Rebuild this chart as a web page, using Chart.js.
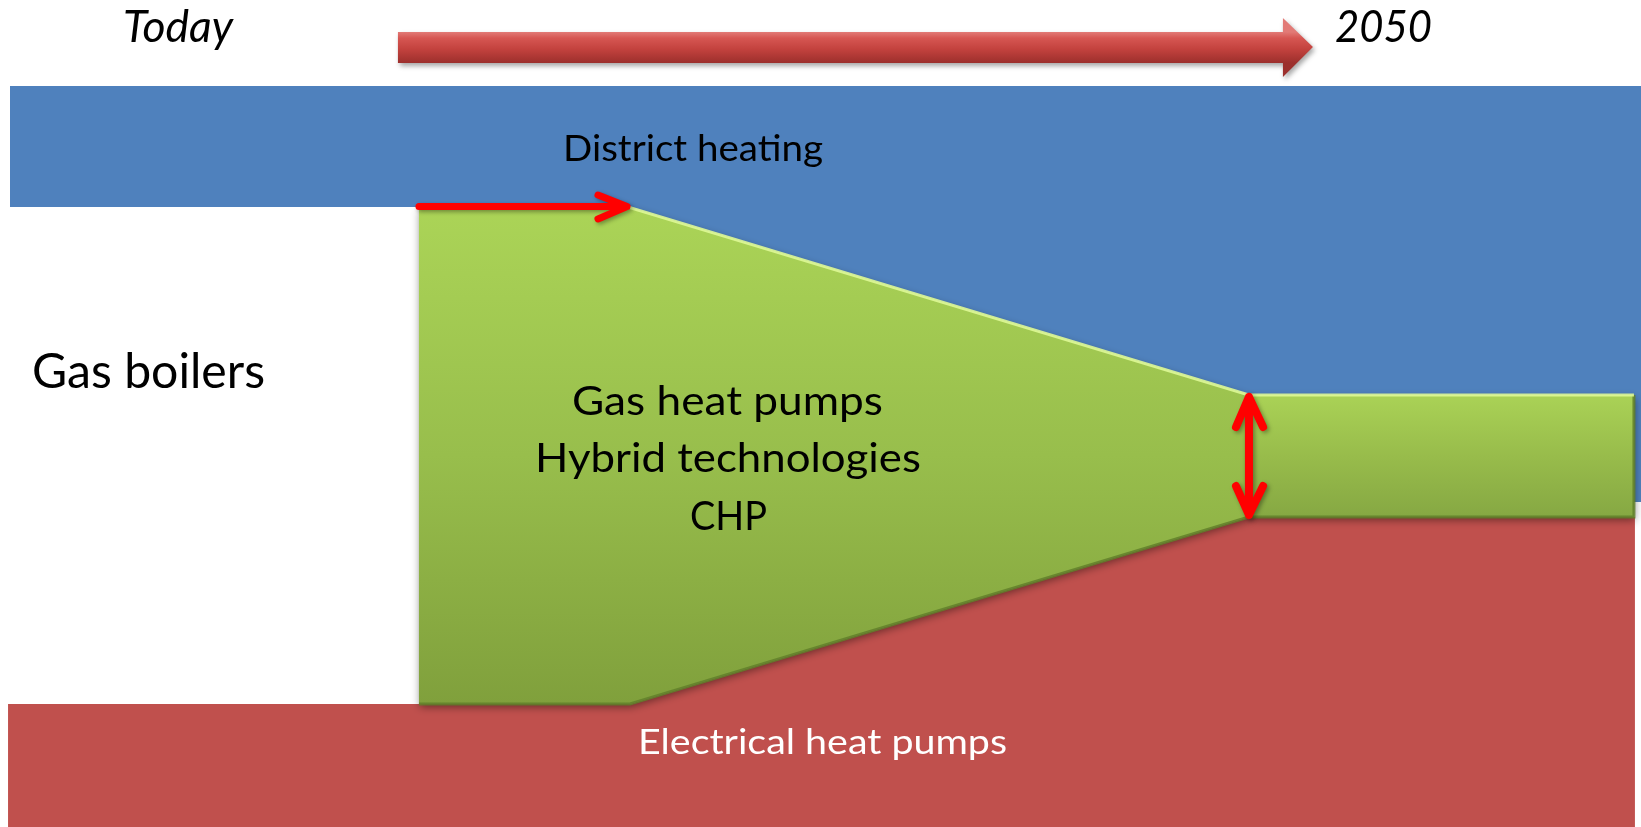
<!DOCTYPE html>
<html>
<head>
<meta charset="utf-8">
<script src="https://cdn.jsdelivr.net/npm/chart.js@4.4.1/dist/chart.umd.min.js"></script>
<style>
  html, body { margin: 0; padding: 0; background: #ffffff; overflow: hidden; }
  #wrap { width: 1641px; height: 827px; }
</style>
</head>
<body>
<div id="wrap"><canvas id="c" width="1641" height="827"></canvas></div>
<script>
// Horizontal axis: transition timeline (0 = left edge, 100 = right edge, Today -> 2050)
// Vertical axis: share of heat supply (0..100)

// District heating (blue) area outline
const districtX = [0.61, 100, 100, 76.11, 76.11, 38.27, 0.61, 0.61];
const districtY = [89.60, 89.60, 39.30, 39.30, 52.24, 74.97, 74.97, 89.60];

// Electrical heat pumps (red) area outline
const electricX = [0.49, 38.39, 76.11, 99.63, 99.63, 0.49, 0.49];
const electricY = [14.87, 14.87, 37.49, 37.49, 0, 0, 14.87];

// Gas based hybrid technologies (green) - transition part
const hybridX = [25.53, 38.27, 76.11, 76.11, 38.39, 25.53, 25.53];
const hybridY = [74.97, 74.97, 52.24, 37.49, 14.87, 14.87, 74.97];

// Gas based hybrid technologies (green) - 2050 part
const hybrid2050X = [76.11, 99.57, 99.57, 76.11, 76.11];
const hybrid2050Y = [52.24, 52.24, 37.49, 37.49, 52.24];

// Time arrow (Today -> 2050)
const timeArrowX = [24.25, 78.18, 78.18, 80.01, 78.18, 78.18, 24.25, 24.25];
const timeArrowY = [96.13, 96.13, 97.82, 94.32, 90.69, 92.38, 92.38, 96.13];

// Red marker: shift towards district heating
const shiftArrowX = [25.53, 38.21, 36.44, 38.21, 36.44];
const shiftArrowY = [75.03, 75.03, 76.42, 75.03, 73.52];

// Red marker: remaining hybrid share in 2050
const shareArrowX = [75.32, 76.11, 76.97, 76.11, 76.11, 75.32, 76.11, 76.97];
const shareArrowY = [48.37, 52.00, 48.37, 52.00, 37.73, 41.23, 37.73, 41.23];

// Texts
const timeLabels = ['Today', '2050'];
const sectorLabels = ['District heating', 'Gas boilers', 'Electrical heat pumps'];
const hybridLabels = ['Gas heat pumps', 'Hybrid technologies', 'CHP'];

// Text placement (anchor in axis units, cap height / width in px)
const textLayout = [
  { text: timeLabels[0],   x: 10.85, y: 94.92, cap: 32, w: 110, italic: true,  color: '#000000' },
  { text: timeLabels[1],   x: 84.31, y: 94.92, cap: 32, w: 97,  italic: true,  color: '#000000' },
  { text: sectorLabels[0], x: 42.23, y: 80.53, cap: 27, w: 260, italic: false, color: '#000000' },
  { text: sectorLabels[1], x: 9.05,  y: 53.08, cap: 35, w: 233, italic: false, color: '#000000' },
  { text: sectorLabels[2], x: 50.12, y: 8.83,  cap: 26, w: 369, italic: false, color: '#ffffff' },
  { text: hybridLabels[0], x: 44.33, y: 49.82, cap: 30, w: 311, italic: false, color: '#000000' },
  { text: hybridLabels[1], x: 44.36, y: 42.93, cap: 30, w: 386, italic: false, color: '#000000' },
  { text: hybridLabels[2], x: 44.39, y: 35.91, cap: 29, w: 77,  italic: false, color: '#000000' }
];

const pts = (xs, ys) => xs.map((x, i) => ({ x: x, y: ys[i] }));

function vGradient(topVal, botVal, stops, fallback) {
  return function (ctx) {
    const chart = ctx.chart;
    const sy = chart.scales && chart.scales.y;
    if (!chart.chartArea || !sy) return fallback;
    const g = chart.ctx.createLinearGradient(0, sy.getPixelForValue(topVal), 0, sy.getPixelForValue(botVal));
    stops.forEach(s => g.addColorStop(s[0], s[1]));
    return g;
  };
}

const shadowPlugin = {
  id: 'softShadow',
  beforeDatasetDraw(chart, args) {
    const ds = chart.data.datasets[args.index];
    if (!ds.shadow) return;
    const c = chart.ctx;
    c.save();
    c.shadowColor = ds.shadow.color;
    c.shadowBlur = ds.shadow.blur;
    c.shadowOffsetX = ds.shadow.dx;
    c.shadowOffsetY = ds.shadow.dy;
  },
  afterDatasetDraw(chart, args) {
    const ds = chart.data.datasets[args.index];
    if (!ds.shadow) return;
    chart.ctx.restore();
  }
};
try {
  const filler = Chart.registry.getPlugin('filler');
  Chart.unregister(filler);
  Chart.register(shadowPlugin, filler);
} catch (e) {
  Chart.register(shadowPlugin);
}

const textPlugin = {
  id: 'diagramTexts',
  afterDatasetsDraw(chart) {
    const c = chart.ctx, sx = chart.scales.x, sy = chart.scales.y;
    const fam = 'Lato, "Open Sans", sans-serif';
    textLayout.forEach(t => {
      c.save();
      const style = t.italic ? 'italic ' : '';
      c.font = style + '100px ' + fam;
      const capR = c.measureText('H').actualBoundingBoxAscent / 100 || 0.72;
      const size = t.cap / capR;
      c.font = style + size.toFixed(2) + 'px ' + fam;
      const w = c.measureText(t.text).width;
      const k = t.w / w;
      c.translate(sx.getPixelForValue(t.x), sy.getPixelForValue(t.y));
      c.scale(k, 1);
      c.textAlign = 'center';
      c.textBaseline = 'alphabetic';
      c.fillStyle = t.color;
      c.fillText(t.text, 0, 0);
      c.restore();
    });
  }
};

const area = (data, color, order, extra) => Object.assign({
  data: data, showLine: true, fill: 'shape', backgroundColor: color,
  borderWidth: 0, borderColor: 'rgba(0,0,0,0)', pointRadius: 0, tension: 0,
  clip: false, order: order
}, extra || {});

const edge = (data, color, width, order) => ({
  data: data, showLine: true, fill: false, borderColor: color, borderWidth: width,
  borderCapStyle: 'butt', borderJoinStyle: 'miter', pointRadius: 0, tension: 0,
  clip: false, order: order
});

const marker = (data, width, order) => ({
  data: data, showLine: true, fill: false, borderColor: '#FF0000', borderWidth: width,
  borderCapStyle: 'round', borderJoinStyle: 'round', pointRadius: 0, tension: 0,
  clip: false, order: order,
  shadow: { color: 'rgba(0,0,0,0.35)', blur: 4, dx: 2, dy: 2 }
});

const greenShadow = { color: 'rgba(0,0,0,0.45)', blur: 8, dx: 1, dy: 3 };
const lightEdge = 'rgba(222,248,150,0.9)';
const darkEdge = 'rgba(98,128,42,0.85)';

new Chart(document.getElementById('c'), {
  type: 'scatter',
  data: {
    datasets: [
      area(pts(districtX, districtY), '#4F81BD', 20),
      area(pts(electricX, electricY), '#C0504D', 19),
      area(pts(hybridX, hybridY),
        vGradient(74.97, 14.87, [[0, '#ABD457'], [0.5, '#98BE4C'], [1, '#80A03C']], '#98BE4C'), 18,
        { shadow: greenShadow }),
      area(pts(hybrid2050X, hybrid2050Y),
        vGradient(52.24, 37.49, [[0, '#AAD256'], [0.5, '#98BC4B'], [1, '#86A843']], '#98BC4B'), 17,
        { shadow: greenShadow }),
      edge(pts(hybridX.slice(0, 3), hybridY.slice(0, 3)), lightEdge, 3, 15),
      edge(pts(hybridX.slice(3, 6), hybridY.slice(3, 6)), darkEdge, 3, 15),
      edge(pts(hybrid2050X.slice(0, 2), hybrid2050Y.slice(0, 2)), lightEdge, 3, 14),
      edge(pts(hybrid2050X.slice(1, 4), hybrid2050Y.slice(1, 4)), darkEdge, 3, 14),
      area(pts(timeArrowX, timeArrowY),
        vGradient(96.13, 92.38, [[0, '#E27A76'], [0.2, '#D65652'], [0.55, '#C3423E'], [1, '#9C2F2C']], '#C0504D'), 16,
        { shadow: { color: 'rgba(0,0,0,0.35)', blur: 5, dx: 2, dy: 3 } }),
      marker(pts(shiftArrowX, shiftArrowY), 7, 2),
      marker(pts(shareArrowX, shareArrowY), 8, 1)
    ]
  },
  options: {
    responsive: false,
    animation: false,
    events: [],
    layout: { padding: 0 },
    plugins: { legend: { display: false }, tooltip: { enabled: false }, title: { display: false } },
    scales: {
      x: { type: 'linear', min: 0, max: 100, display: false },
      y: { type: 'linear', min: 0, max: 100, display: false }
    }
  },
  plugins: [textPlugin]
});
</script>
</body>
</html>
